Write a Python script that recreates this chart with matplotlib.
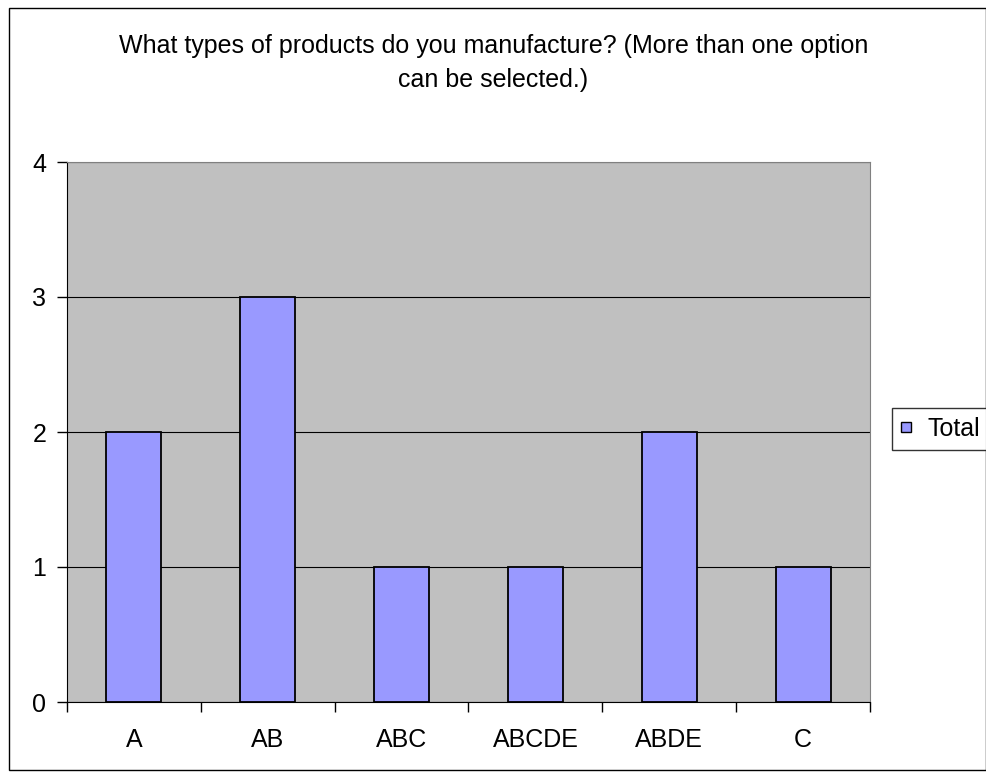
import matplotlib
matplotlib.use("Agg")
import matplotlib.pyplot as plt
from matplotlib.patches import Rectangle
from matplotlib.lines import Line2D

plt.rcParams['font.family'] = ['Liberation Sans', 'DejaVu Sans']

categories = ["A", "AB", "ABC", "ABCDE", "ABDE", "C"]
totals = [2, 3, 1, 1, 2, 1]
yticks = [0, 1, 2, 3, 4]
title = "What types of products do you manufacture? (More than one option\ncan be selected.)"

W, H = 987, 778
fig = plt.figure(figsize=(W / 100, H / 100), dpi=100)

# outer chart border
fig.patches.append(Rectangle((9 / W, 1 - 770 / H), (986 - 9) / W, (770 - 8) / H,
                             transform=fig.transFigure, fill=False,
                             edgecolor="black", linewidth=1))

ax = fig.add_axes([67 / W, 1 - 702 / H, (870 - 67) / W, (702 - 162) / H])
ax.set_facecolor("#C0C0C0")

x = list(range(len(categories)))
ax.bar(x, totals, width=0.41, color="#9999FF", edgecolor="black",
       linewidth=1.3, zorder=3)

ax.set_xlim(-0.5, len(categories) - 0.5)
ax.set_ylim(0, 4)
ax.set_yticks(yticks)
ax.yaxis.grid(True, color="black", linewidth=0.8, zorder=1)
ax.set_axisbelow(True)

ax.set_xticks(x)
ax.set_xticklabels(categories, fontsize=18)
ax.tick_params(axis="x", length=0, pad=18.5)
ax.set_xticks([i - 0.5 for i in range(len(categories) + 1)], minor=True)
ax.tick_params(axis="x", which="minor", length=7, width=1, color="black")
ax.tick_params(axis="y", labelsize=18, length=7, width=1, color="black", pad=8)

for s in ["top", "right"]:
    ax.spines[s].set_color("#808080")
ax.spines["left"].set_color("black")
ax.spines["bottom"].set_color("black")

fig.text(0.5, 1 - 34 / H, title, ha="center", va="top", fontsize=18,
         linespacing=1.5)

handle = Line2D([], [], linestyle="none", marker="s", markersize=6.5,
                markerfacecolor="#9999FF", markeredgecolor="black",
                markeredgewidth=1)
leg = fig.legend([handle], ["Total"], loc="upper left",
                 bbox_to_anchor=(892 / W, 1 - 408 / H),
                 fontsize=18, frameon=True, fancybox=False, edgecolor="black",
                 handlelength=0.4, handletextpad=0.65,
                 borderpad=0.35, borderaxespad=0)
leg.get_frame().set_linewidth(1)

fig.savefig("out.png", dpi=100)
